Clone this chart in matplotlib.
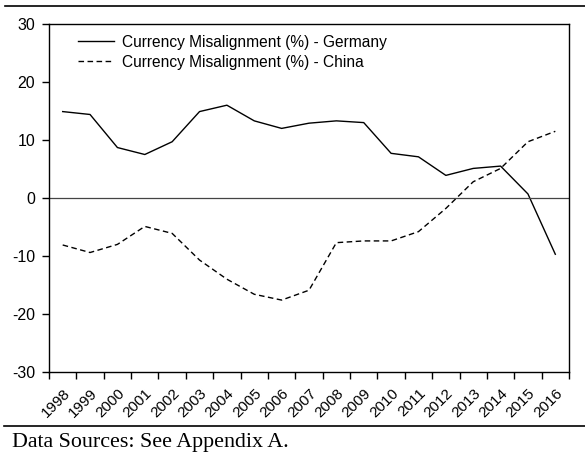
import matplotlib
matplotlib.use("Agg")
import matplotlib.pyplot as plt
from matplotlib.lines import Line2D
import numpy as np

years = [str(y) for y in range(1998, 2017)]
germany = [14.9, 14.4, 8.7, 7.5, 9.7, 14.9, 16.0, 13.3, 12.0, 12.9, 13.3, 13.0,
           7.7, 7.1, 3.9, 5.1, 5.5, 0.7, -9.7]
china = [-8.1, -9.4, -8.0, -4.9, -6.1, -10.7, -14.0, -16.6, -17.6, -15.9, -7.7,
         -7.4, -7.4, -5.8, -1.8, 2.8, 5.1, 9.7, 11.5]
yticks = [-30, -20, -10, 0, 10, 20, 30]

plt.rcParams['font.family'] = ['Liberation Sans', 'DejaVu Sans']

fig = plt.figure(figsize=(5.85, 4.57), dpi=100)
W, H = 585, 457
ax = fig.add_axes([49 / W, 1 - 372 / H, (569 - 49) / W, (372 - 24) / H])

x = np.arange(len(years)) + 0.5
ax.plot(x, germany, color='black', lw=1.0, label='Currency Misalignment (%) - Germany')
ax.plot(x, china, color='black', lw=1.0, ls=(0, (4, 2.5)), label='Currency Misalignment (%) - China')
ax.axhline(0, color='#444444', lw=0.9)

ax.set_xlim(0, len(years))
ax.set_ylim(-30, 30)
ax.set_yticks(yticks)
ax.set_yticklabels([str(v) for v in yticks], fontsize=11.5)
ax.set_xticks(x)
ax.set_xticklabels(years, rotation=45, ha='right', va='top', rotation_mode='anchor', fontsize=11)
ax.set_xticks(np.arange(len(years) + 1), minor=True)
ax.tick_params(axis='x', which='major', length=0, pad=10)
ax.tick_params(axis='x', which='minor', length=5, direction='out', width=1)
ax.tick_params(axis='y', length=5, direction='out', width=1, pad=5)
for s in ax.spines.values():
    s.set_linewidth(1.0)
    s.set_color('black')

ax.legend(loc='upper left', bbox_to_anchor=(0.035, 1.0), frameon=False, fontsize=11.2,
          handlelength=2.3, handletextpad=0.55, labelspacing=0.3, borderaxespad=0.3)

fig.add_artist(Line2D([5 / W, 1.0], [1 - 6 / H, 1 - 6 / H], color='black', lw=1.2))
fig.add_artist(Line2D([4 / W, 1.0], [1 - 426 / H, 1 - 426 / H], color='black', lw=1.2))
fig.text(12 / W, 1 - 443 / H, 'Data Sources: See Appendix A.', family='Liberation Serif',
         fontsize=15.8, va='center', ha='left')

fig.savefig('out.png', dpi=100)
